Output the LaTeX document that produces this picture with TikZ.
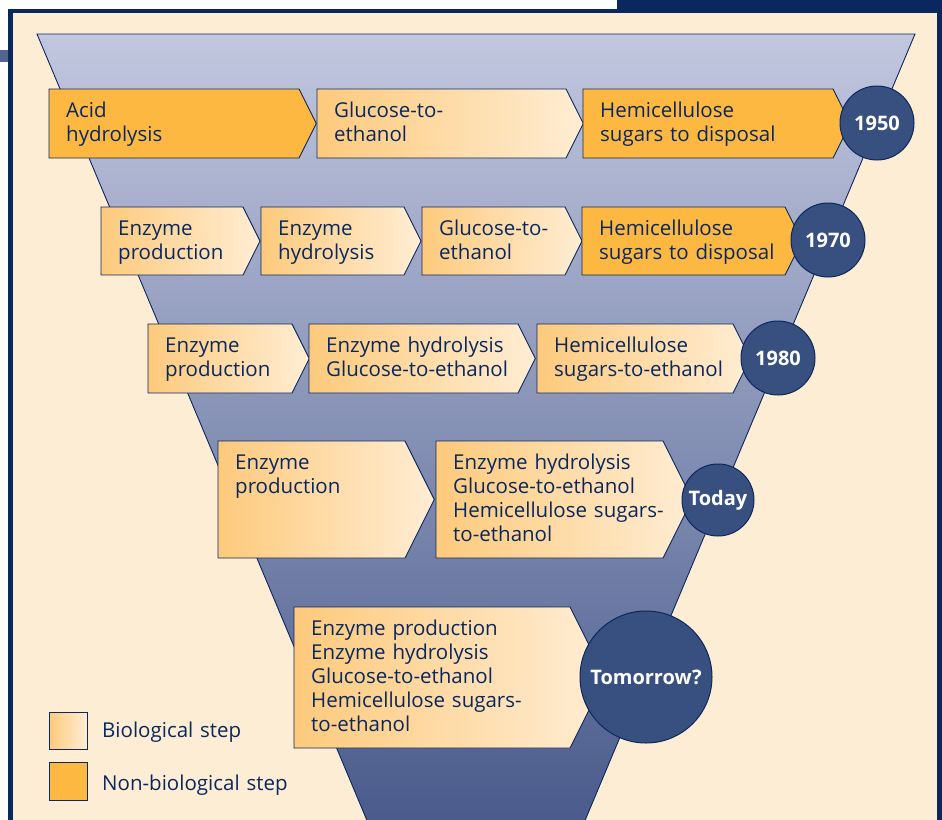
\documentclass[tikz,border=0pt]{standalone}
\usepackage{fontspec}
\setmainfont{Open Sans}
\usepackage{tikz}
\definecolor{navy}{RGB}{10,40,94}
\definecolor{cream}{RGB}{254,237,213}
\definecolor{sidebar}{RGB}{84,100,145}
\definecolor{funtop}{RGB}{194,199,223}
\definecolor{funbot}{RGB}{72,90,139}
\definecolor{nonbio}{RGB}{253,184,66}
\definecolor{bioleft}{RGB}{253,202,124}
\definecolor{bioright}{RGB}{255,237,212}
\definecolor{yearblue}{RGB}{56,80,128}
\tikzset{
  biostep/.style={draw=navy,line width=0.9pt,left color=bioleft,right color=bioright},
  nonbiostep/.style={draw=navy,line width=0.9pt,fill=nonbio},
  steplabel/.style={anchor=base west,inner sep=0pt,text=navy,text width=10cm,align=left,font=\fontsize{20.5}{24}\selectfont},
  yearmark/.style={circle,draw=navy,line width=1pt,fill=yearblue,text=white,inner sep=0pt,font=\bfseries\fontsize{20}{24}\selectfont}
}
% #1 style, #2 left, #3 top, #4 end of flat part, #5 bottom
\newcommand\stepshape[5]{\path[#1] (#2,#3) -- (#4,#3) -- ({#4+(#5-#3)/4},{(#3+#5)/2}) -- (#4,#5) -- (#2,#5) -- cycle;}

\begin{document}
\begin{tikzpicture}[x=1pt,y=-1pt]
                \useasboundingbox (0,0) rectangle (942,819);
                \clip (0,0) rectangle (942,819);
                \fill[white] (0,0) rectangle (942,819);
                \fill[navy] (617,0) rectangle (942,13);
                \fill[navy] (8,9) rectangle (942,830);
                \fill[cream] (13,13) rectangle (937,830);
                \fill[sidebar] (0,50) rectangle (8,62);
                \path[draw=navy,line width=0.9pt,top color=funtop,bottom color=funbot] (37,34) -- (915,34) -- (581,830) -- (371,830) -- cycle;

                % 1950
                \stepshape{nonbiostep}{49}{89}{299}{158}
                \stepshape{biostep}{317}{89}{566}{158}
                \stepshape{nonbiostep}{583}{89}{833}{158}
                \node[yearmark,minimum size=74pt] (y1950) at (877,123) {1950};
                \node[steplabel] (acid) at (66,117) {Acid\\hydrolysis};
                \node[steplabel] (glucA) at (334,117) {Glucose-to-\\ethanol};
                \node[steplabel] (hemiA) at (600,117) {Hemicellulose\\sugars to disposal};

                % 1970
                \stepshape{biostep}{101}{207}{243}{275}
                \stepshape{biostep}{261}{207}{404}{275}
                \stepshape{biostep}{422}{207}{565}{275}
                \stepshape{nonbiostep}{582}{207}{785}{275}
                \node[yearmark,minimum size=74pt] (y1970) at (828,240) {1970};
                \node[steplabel] (prodB) at (118,235) {Enzyme\\production};
                \node[steplabel] (hydrB) at (278,235) {Enzyme\\hydrolysis};
                \node[steplabel] (glucB) at (439,235) {Glucose-to-\\ethanol};
                \node[steplabel] (hemiB) at (599,235) {Hemicellulose\\sugars to disposal};

                % 1980
                \stepshape{biostep}{148}{324}{292}{393}
                \stepshape{biostep}{309}{324}{518}{393}
                \stepshape{biostep}{537}{324}{733}{393}
                \node[yearmark,minimum size=74pt] (y1980) at (778,358) {1980};
                \node[steplabel] (prodC) at (165,352) {Enzyme\\production};
                \node[steplabel] (hydrC) at (326,352) {Enzyme hydrolysis\\Glucose-to-ethanol};
                \node[steplabel] (hemiC) at (554,352) {Hemicellulose\\sugars-to-ethanol};

                % Today
                \stepshape{biostep}{218}{441}{405}{558}
                \stepshape{biostep}{436}{441}{663}{558}
                \node[yearmark,minimum size=72pt] (today) at (718,500) {Today};
                \node[steplabel] (prodD) at (235,469) {Enzyme\\production};
                \node[steplabel] (allD) at (453,469) {Enzyme hydrolysis\\Glucose-to-ethanol\\Hemicellulose sugars-\\to-ethanol};

                % Tomorrow
                \stepshape{biostep}{294}{607}{570}{748}
                \node[yearmark,minimum size=132pt] (tomorrow) at (646,677) {Tomorrow?};
                \node[steplabel] (allE) at (311,635) {Enzyme production\\Enzyme hydrolysis\\Glucose-to-ethanol\\Hemicellulose sugars-\\to-ethanol};

                % legend
                \path[biostep] (49,712) rectangle (87,749);
                \path[nonbiostep] (49,762) rectangle (87,800);
                \node[steplabel] (biokey) at (102,737) {Biological step};
                \node[steplabel] (nonbiokey) at (102,790) {Non-biological step};
            \end{tikzpicture}
\end{document}
